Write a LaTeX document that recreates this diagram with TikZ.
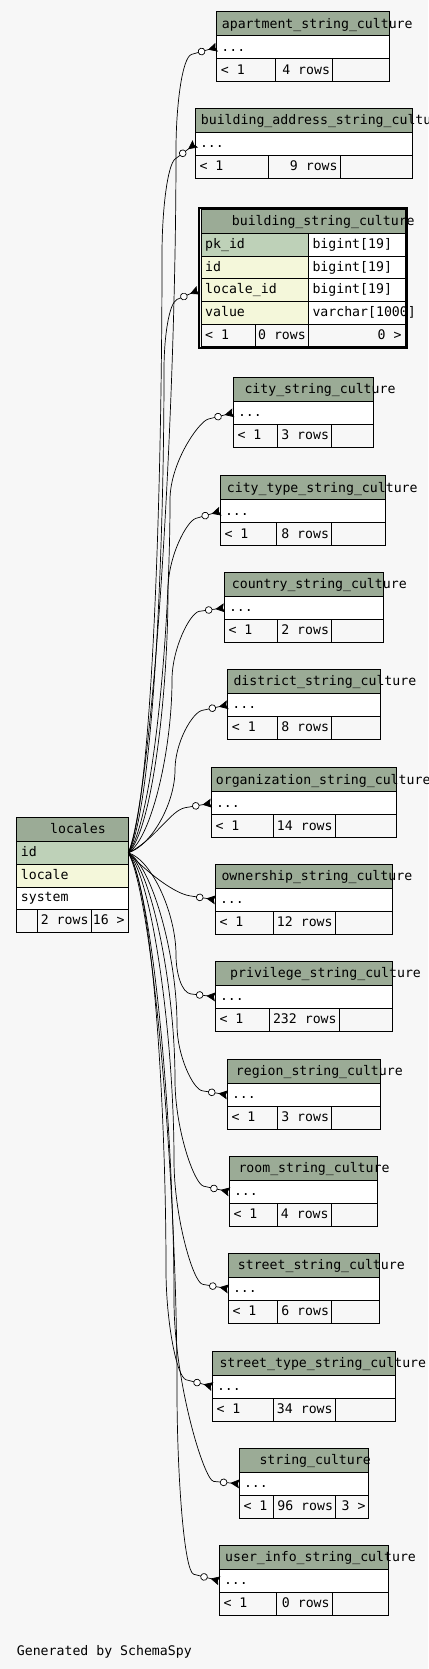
\documentclass[tikz,border=0pt]{standalone}
\usepackage{fontspec}
\setmonofont{DejaVu Sans Mono}
\usetikzlibrary{arrows.meta,calc}

\definecolor{bggray}{HTML}{F7F7F7}
\definecolor{hdrgreen}{HTML}{9BAB96}
\definecolor{pkgreen}{HTML}{BED1B8}
\definecolor{colyellow}{HTML}{F4F7DA}

\newcommand{\tblfont}{\fontsize{13.2}{15}\selectfont\ttfamily}

% name, left, top, right, title, title x, divider 1, divider 2, rows
\newcommand{\strtable}[9]{%
  \node[hdcell, minimum width={#4pt-#2pt}] (#1-hd) at (#2,#3) {};
  \node[rowcell, minimum width={#4pt-#2pt}] (#1) at (#2,#3+24) {};
  \node[ftcell, minimum width={#7pt-#2pt}] (#1-f1) at (#2,#3+47) {};
  \node[ftcell, minimum width={#8pt-#7pt}] (#1-f2) at (#7,#3+47) {};
  \node[ftcell, minimum width={#4pt-#8pt}] (#1-f3) at (#8,#3+47) {};
  \node[txt] (#1-title) at (#6,#3+16.5) {#5};
  \node[txt] (#1-dots) at (#2+4.5,#3+39.5) {...};
  \node[txt] (#1-prev) at (#2+4,#3+62.5) {< 1};
  \node[txt, anchor=base east] (#1-rows) at (#8-2.5,#3+62.5) {#9};
}

% target, circle x, circle y, bundle x, bundle y
\newcommand{\fklink}[5]{%
  \draw[fk] (loc-id.east) .. controls (152,{851.7+0.08*(#5-851.7)}) and (#4,{#5+0.4*(851.7-#5)}) .. (#4,#5)
    .. controls (#4,{#5+0.45*(#3-#5)}) and ($(#1)!2.2!(#2,#3)$) .. ($(#1)!1.6!(#2,#3)$) -- (#1);
}

\begin{document}
\begin{tikzpicture}[x=1pt,y=-1pt]
  \tikzstyle{tblcell}=[draw=black, line width=0.9pt, anchor=north west, inner sep=0pt, outer sep=0pt]
  \tikzstyle{hdcell}=[tblcell, fill=hdrgreen, minimum height=24pt]
  \tikzstyle{rowcell}=[tblcell, fill=white, minimum height=23pt]
  \tikzstyle{ftcell}=[tblcell, fill=bggray, minimum height=23pt]
  \tikzstyle{txt}=[anchor=base west, inner sep=0pt, font=\tblfont]
  \tikzstyle{fk}=[draw=black, line width=0.7pt,
    -{Circle[fill=white, length=7.5pt, width=7.5pt, sep=3pt] Stealth[reversed, length=9pt, width=9pt, inset=1.5pt]}]

  \fill[bggray] (0,0) rectangle (428,1669);
  \useasboundingbox (0,0) rectangle (428,1669);

  % locales
  \node[hdcell, minimum width=111.6pt] (loc-hd) at (16.7,817.3) {};
  \node[rowcell, fill=pkgreen, minimum width=111.6pt] (loc-id) at (16.7,841.3) {};
  \node[rowcell, fill=colyellow, minimum width=111.6pt] (loc-locale) at (16.7,864.3) {};
  \node[rowcell, minimum width=111.6pt, minimum height=22pt] (loc-system) at (16.7,887.3) {};
  \node[ftcell, minimum width=20.6pt] (loc-f1) at (16.7,909.3) {};
  \node[ftcell, minimum width=54.4pt] (loc-f2) at (37.3,909.3) {};
  \node[ftcell, minimum width=36.6pt] (loc-f3) at (91.7,909.3) {};
  \node[txt] (loc-title) at (50,833.8) {locales};
  \node[txt] (loc-idtxt) at (20.7,856.8) {id};
  \node[txt] (loc-localetxt) at (20.7,879.8) {locale};
  \node[txt] (loc-systemtxt) at (20.7,901.8) {system};
  \node[txt, anchor=base east] (loc-rows) at (88.7,924.8) {2 rows};
  \node[txt, anchor=base east] (loc-next) at (124.8,924.8) {16 >};

  % building_string_culture
  \draw[line width=2pt] (199.3,207.7) rectangle (406.8,348);
  \node[hdcell, minimum width=204.3pt] (bsc-hd) at (201,209.3) {};
  \node[rowcell, fill=pkgreen, minimum width=107.3pt, minimum height=22.7pt] (bsc-pk) at (201,233.3) {};
  \node[rowcell, minimum width=97pt, minimum height=22.7pt] (bsc-pkt) at (308.3,233.3) {};
  \node[rowcell, fill=colyellow, minimum width=107.3pt, minimum height=22.7pt] (bsc-id) at (201,256) {};
  \node[rowcell, minimum width=97pt, minimum height=22.7pt] (bsc-idt) at (308.3,256) {};
  \node[rowcell, fill=colyellow, minimum width=107.3pt, minimum height=22.7pt] (bsc-lid) at (201,278.7) {};
  \node[rowcell, minimum width=97pt, minimum height=22.7pt] (bsc-lidt) at (308.3,278.7) {};
  \node[rowcell, fill=colyellow, minimum width=107.3pt, minimum height=22.7pt] (bsc-val) at (201,301.4) {};
  \node[rowcell, minimum width=97pt, minimum height=22.7pt] (bsc-valt) at (308.3,301.4) {};
  \node[ftcell, minimum width=54.7pt, minimum height=22.7pt] (bsc-f1) at (201,324.1) {};
  \node[ftcell, minimum width=52.6pt, minimum height=22.7pt] (bsc-f2) at (255.7,324.1) {};
  \node[ftcell, minimum width=97pt, minimum height=22.7pt] (bsc-f3) at (308.3,324.1) {};
  \node[txt] (bsc-title) at (231.7,225.8) {building\_string\_culture};
  \node[txt] (bsc-pktxt) at (205,248.5) {pk\_id};
  \node[txt] (bsc-pktype) at (312.3,248.5) {bigint[19]};
  \node[txt] (bsc-idtxt) at (205,271.2) {id};
  \node[txt] (bsc-idtype) at (312.3,271.2) {bigint[19]};
  \node[txt] (bsc-lidtxt) at (205,293.9) {locale\_id};
  \node[txt] (bsc-lidtype) at (312.3,293.9) {bigint[19]};
  \node[txt] (bsc-valtxt) at (205,316.6) {value};
  \node[txt] (bsc-valtype) at (312.3,316.6) {varchar[1000]};
  \node[txt] (bsc-prev) at (205,339.3) {< 1};
  \node[txt, anchor=base east] (bsc-rows) at (306,339.3) {0 rows};
  \node[txt, anchor=base east] (bsc-next) at (401.7,339.3) {0 >};
  \coordinate (bsc-port) at (198.3,290.3);

  % the other string tables
  \strtable{apt}{216.7}{11.7}{389.3}{apartment\_string\_culture}{221.7}{275.7}{332.7}{4 rows}
  \strtable{bas}{195.3}{108.3}{412.3}{building\_address\_string\_culture}{200.7}{268.3}{340.3}{9 rows}
  \strtable{city}{233.3}{377.3}{373.3}{city\_string\_culture}{244.3}{277.7}{331.7}{3 rows}
  \strtable{ctype}{220.3}{475.7}{385.3}{city\_type\_string\_culture}{226.7}{276.7}{331.7}{8 rows}
  \strtable{country}{224.3}{572.3}{383.3}{country\_string\_culture}{231.7}{277.7}{331.7}{2 rows}
  \strtable{district}{227.7}{669.3}{380.3}{district\_string\_culture}{233.3}{277.7}{331.7}{8 rows}
  \strtable{org}{211.3}{767.7}{396.3}{organization\_string\_culture}{215.7}{273.7}{335.3}{14 rows}
  \strtable{own}{215.3}{864.3}{392.3}{ownership\_string\_culture}{221.3}{273.7}{335.3}{12 rows}
  \strtable{priv}{215.3}{961.3}{392.3}{privilege\_string\_culture}{230}{269.3}{339.3}{232 rows}
  \strtable{region}{227.3}{1059.3}{380.3}{region\_string\_culture}{235.7}{277.7}{331.7}{3 rows}
  \strtable{room}{229.3}{1156.3}{377.3}{room\_string\_culture}{238.3}{277.3}{331.3}{4 rows}
  \strtable{street}{228.3}{1253.3}{379.3}{street\_string\_culture}{237.7}{277.7}{331.7}{6 rows}
  \strtable{stype}{212.3}{1351}{395.3}{street\_type\_string\_culture}{219.3}{273.7}{335.3}{34 rows}
  \strtable{strc}{239.3}{1448.3}{368.7}{string\_culture}{259.3}{273.3}{335.7}{96 rows}
  \node[txt, anchor=base east] (strc-next) at (365.7,1510.8) {3 >};
  \strtable{uinfo}{219.3}{1545.3}{388.7}{user\_info\_string\_culture}{225}{276.3}{332.3}{0 rows}

  % locale_id -> locales.id
  \fklink{apt.west}{201}{51.7}{176}{150}
  \fklink{bas.west}{182.7}{153.3}{162}{255}
  \fklink{bsc-port}{185}{296}{164}{370}
  \fklink{city.west}{217.7}{416.7}{170}{500}
  \fklink{ctype.west}{205}{515.7}{168}{590}
  \fklink{country.west}{208.7}{610}{172}{680}
  \fklink{district.west}{211.7}{708.3}{175}{770}
  \draw[fk] (loc-id.east) .. controls (155,840) and ($(org.west)!2.5!(195,806)$) .. ($(org.west)!1.6!(195,806)$) -- (org.west);
  \draw[fk] (loc-id.east) .. controls (150,875) and ($(own.west)!2.5!(199.3,897.3)$) .. ($(own.west)!1.6!(199.3,897.3)$) -- (own.west);
  \fklink{priv.west}{200}{995}{176}{955}
  \fklink{region.west}{211.7}{1092.3}{177}{1025}
  \fklink{room.west}{213.3}{1188.3}{175}{1080}
  \fklink{street.west}{212.3}{1286}{174}{1160}
  \fklink{stype.west}{196}{1382.3}{166}{1270}
  \fklink{strc.west}{223.3}{1482.3}{174}{1300}
  \fklink{uinfo.west}{203.3}{1576.7}{177}{1390}

  \node[txt] (credit) at (16.7,1655) {Generated by SchemaSpy};
\end{tikzpicture}
\end{document}
